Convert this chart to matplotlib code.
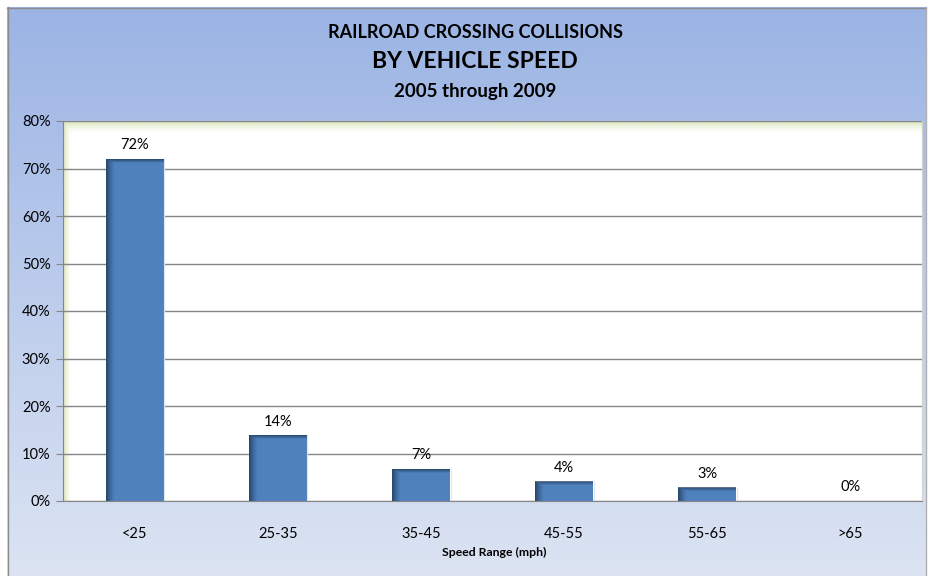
import numpy as np
import matplotlib
matplotlib.use("Agg")
import matplotlib.pyplot as plt
from matplotlib.colors import to_rgb
from matplotlib.ticker import PercentFormatter

# Collision share by vehicle speed range
categories = ["<25", "25-35", "35-45", "45-55", "55-65", ">65"]
shares = [0.72, 0.138, 0.067, 0.041, 0.028, 0.001]
y_ticks = [0.0, 0.1, 0.2, 0.3, 0.4, 0.5, 0.6, 0.7, 0.8]

title_lines = ["RAILROAD CROSSING COLLISIONS", "BY VEHICLE SPEED", "2005 through 2009"]
x_title = "Speed Range (mph)"

W, H = 931, 576
FONT = "Lato"
BAR_COLOR = "#4F81BD"
SHADE_COLOR = "#1E3858"
GRID_COLOR = "#868686"

fig = plt.figure(figsize=(W / 100, H / 100), dpi=100)
fig.patch.set_facecolor("white")

# Chart background: vertical blue gradient with a thin grey frame
bg = fig.add_axes([0, 0, 1, 1])
bg.set_xlim(0, W)
bg.set_ylim(H, 0)
bg.axis("off")
top_c = np.array(to_rgb("#9BB4E4"))
bot_c = np.array(to_rgb("#DCE4F3"))
t = np.linspace(0, 1, 256)[:, None, None]
grad = top_c * (1 - t) + bot_c * t
grad = np.repeat(grad, 2, axis=1)
bg.imshow(grad, extent=(7, 926, H, 7), aspect="auto", interpolation="bilinear")
bg.plot([7, 926], [7.5, 7.5], color="#8C8C8C", lw=1)
bg.plot([7.5, 7.5], [7, H], color="#8C8C8C", lw=1)
bg.plot([926, 926], [7, H], color="#B0B0B0", lw=1)

# Titles
fig.text(475 / W, 1 - 33 / H, title_lines[0], ha="center", va="center",
         fontsize=13, fontweight="bold", family=FONT)
fig.text(475 / W, 1 - 62 / H, title_lines[1], ha="center", va="center",
         fontsize=16.5, fontweight="bold", family=FONT)
fig.text(475 / W, 1 - 92 / H, title_lines[2], ha="center", va="center",
         fontsize=13.5, fontweight="bold", family=FONT)

# Plot area
left, right, top, bottom = 63, 922, 121, 501
ax = fig.add_axes([left / W, 1 - bottom / H, (right - left) / W, (bottom - top) / H])
ax.set_facecolor("white")
x = np.arange(len(categories))
ax.set_xlim(-0.5, len(categories) - 0.5)
ax.set_ylim(0, 0.8)

# Soft green-yellow inner glow along the top and left edges of the plot area
glow = np.array(to_rgb("#D8E4B8"))
ny, nx = 200, 400
yy = np.linspace(0, 1, ny)[:, None]
xx = np.linspace(0, 1, nx)[None, :]
a_top = np.clip(1 - yy * (bottom - top) / 12, 0, 1) ** 1.5
a_left = np.clip(1 - xx * (right - left) / 7, 0, 1) ** 1.5
alpha = np.maximum(a_top, a_left) * 0.9
img = np.zeros((ny, nx, 4))
img[..., :3] = glow
img[..., 3] = alpha
ax.imshow(img, extent=(0, 1, 0, 1), transform=ax.transAxes, aspect="auto",
          interpolation="bilinear", zorder=0.5)

ax.set_yticks(y_ticks)
ax.yaxis.set_major_formatter(PercentFormatter(1.0, decimals=0))
ax.grid(axis="y", color=GRID_COLOR, lw=1)
ax.set_axisbelow(True)
ax.set_xticks(x)
ax.set_xticklabels(categories)

ax.spines["top"].set_visible(False)
ax.spines["right"].set_color("#D0D0D0")
ax.spines["left"].set_color(GRID_COLOR)
ax.spines["bottom"].set_color(GRID_COLOR)
ax.tick_params(axis="y", length=5, color=GRID_COLOR, pad=4, labelsize=10.5)
ax.tick_params(axis="x", length=0, pad=19, labelsize=10.5)
for lab in ax.get_xticklabels() + ax.get_yticklabels():
    lab.set_family(FONT)

bars = ax.bar(x, shares, width=0.405, color=BAR_COLOR, zorder=2)

# Bevel shading on each bar: dark left edge and top edge
px_x = (len(categories)) / (right - left)   # data units per pixel (x)
px_y = 0.8 / (bottom - top)                  # data units per pixel (y)
shade = np.array(to_rgb(SHADE_COLOR))
for b in bars:
    bx, bw, bh = b.get_x(), b.get_width(), b.get_height()
    if bh < 2 * px_y:
        continue
    wpx = max(int(round(bw / px_x)), 2)
    hpx = max(int(round(bh / px_y)), 1)
    cx = np.arange(wpx)[None, :] + 0.5
    cy = np.arange(hpx)[:, None] + 0.5
    al = np.clip(1 - cx / 9.0, 0, 1) ** 1.3 * 0.85
    at = np.clip(1 - cy / 4.0, 0, 1) * 0.8
    a = np.maximum(al, at)
    im = np.zeros((hpx, wpx, 4))
    im[..., :3] = shade
    im[..., 3] = a
    ax.imshow(im, extent=(bx, bx + bw, 0, bh), aspect="auto",
              interpolation="bilinear", zorder=2.5)
    ax.plot([bx + bw + px_x * 0.6] * 2, [0, bh], color="#DCE6F2", lw=0.8, zorder=2.4)

ax.set_xlim(-0.5, len(categories) - 0.5)
ax.set_ylim(0, 0.8)

# Value labels above bars
for xi, v in zip(x, shares):
    ax.annotate(f"{v * 100:.0f}%", (xi, v), xytext=(0, 5), textcoords="offset points",
                ha="center", va="bottom", fontsize=10.5, family=FONT)

fig.text(494 / W, 1 - 552 / H, x_title, ha="center", va="center",
         fontsize=8.8, fontweight="bold", family=FONT)

fig.savefig("out.png", dpi=100)
